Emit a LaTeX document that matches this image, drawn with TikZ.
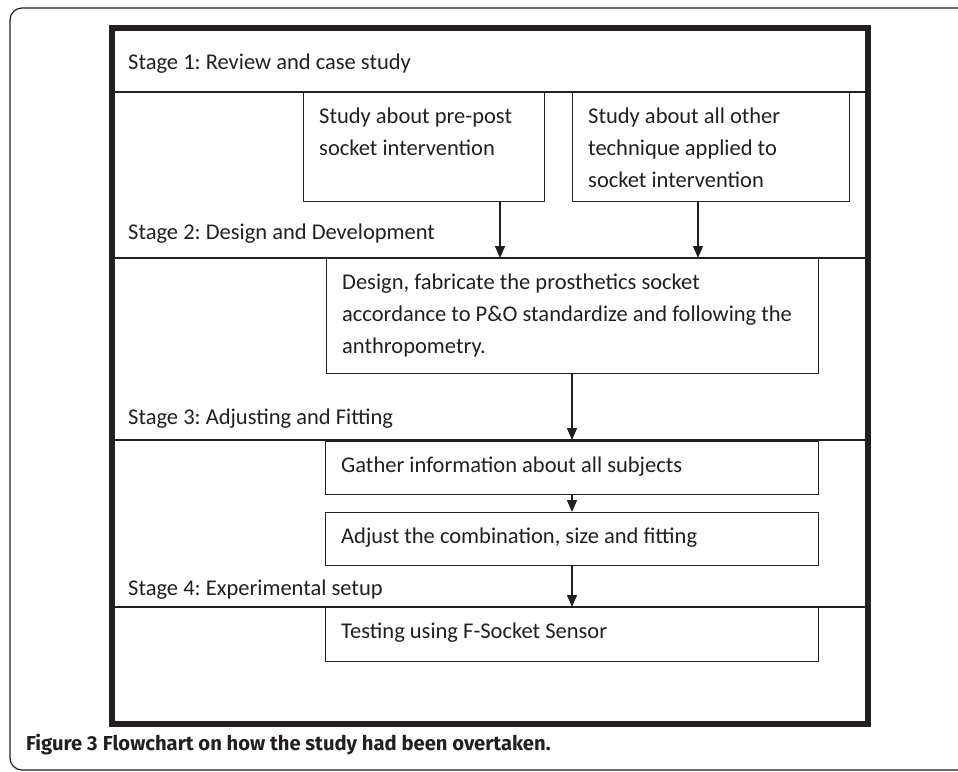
\documentclass[tikz,border=0pt]{standalone}
\usepackage{fontspec}
\setmainfont{Carlito}
\newfontfamily\capfont{Fira Sans}
\usetikzlibrary{arrows.meta,calc}
\definecolor{ink}{HTML}{231F20}
\frenchspacing
\newcommand{\firststrut}{\rule{0pt}{16pt}}
\tikzset{
  box/.style={draw=ink, line width=1.4pt, rectangle, inner sep=0pt, anchor=north west},
  txt/.style={text=ink, anchor=north west, inner sep=0pt, align=left, font=\fontsize{22.5}{32}\selectfont},
  stagetxt/.style={text=ink, anchor=base west, inner sep=0pt, font=\fontsize{22.5}{32}\selectfont},
  sep/.style={draw=ink, line width=1.4pt},
  flow/.style={draw=ink, line width=1.4pt, -{Triangle[width=10pt,length=12pt]}},
}
\begin{document}
\begin{tikzpicture}[x=1pt,y=-1pt]
\useasboundingbox (0,0) rectangle (958,771);
\begin{scope}
\clip (0,0) rectangle (958,771);
% outer frame
\draw[draw=ink, line width=1.2pt, rounded corners=12pt] (970,8) -- (10,8) -- (10,770) -- (970,770);
\end{scope}
% thick box
\draw[draw=ink, line width=6pt] (112,28) rectangle (868,724);
% separators
\coordinate (s1l) at (112,92);  \coordinate (s1r) at (868,92);
\coordinate (s2l) at (112,258); \coordinate (s2r) at (868,258);
\coordinate (s3l) at (112,440); \coordinate (s3r) at (868,440);
\coordinate (s4l) at (112,607); \coordinate (s4r) at (868,607);
\draw[sep] (s1l) -- (s1r);
\draw[sep] (s2l) -- (s2r);
\draw[sep] (s3l) -- (s3r);
\draw[sep] (s4l) -- (s4r);
% stage labels
\node[stagetxt] (st1) at (128,69) {Stage 1: Review and case study};
\node[stagetxt] (st2) at (128,239) {Stage 2: Design and Development};
\node[stagetxt] (st3) at (128,424) {Stage 3: Adjusting and Fitting};
\node[stagetxt] (st4) at (128,595) {Stage 4: Experimental setup};
% boxes
\node[box, minimum width=241pt, minimum height=109pt] (A) at (303,92) {};
\node[box, minimum width=277pt, minimum height=109pt] (B) at (572,92) {};
\node[box, minimum width=492pt, minimum height=115pt] (C) at (326,258) {};
\node[box, minimum width=493pt, minimum height=53pt] (D) at (325,441) {};
\node[box, minimum width=493pt, minimum height=53pt] (E) at (325,512) {};
\node[box, minimum width=493pt, minimum height=54pt] (F) at (325,607) {};
% texts (first baseline 31 below box top)
\node[txt] (tA) at ($(A.north west)+(16,15)$) {\firststrut Study about pre-post\\socket intervention};
\node[txt] (tB) at ($(B.north west)+(16,15)$) {\firststrut Study about all other\\technique applied to\\socket intervention};
\node[txt] (tC) at ($(C.north west)+(16,15)$) {\firststrut Design, fabricate the prosthetics socket\\accordance to P\&O standardize and following the\\anthropometry.};
\node[txt] (tD) at ($(D.north west)+(16,15)$) {\firststrut Gather information about all subjects};
\node[txt] (tE) at ($(E.north west)+(16,15)$) {\firststrut Adjust the combination, size and fitting};
\node[txt] (tF) at ($(F.north west)+(16,15)$) {\firststrut Testing using F-Socket Sensor};
% arrows
\coordinate (a1) at (500,258);
\coordinate (a2) at (698,258);
\coordinate (a3) at (572,440);
\coordinate (a5) at (572,607);
\draw[flow] (A.south -| a1) -- (a1);
\draw[flow] (B.south -| a2) -- (a2);
\draw[flow] (C.south -| a3) -- (a3);
\draw[flow] (D.south -| a3) -- (E.north -| a3);
\draw[flow] (E.south -| a5) -- (a5);
% caption
\node[text=ink, anchor=base west, inner sep=0pt, font=\capfont\fontsize{20.2}{24}\selectfont] (cap) at (26,750) {\textbf{Figure 3} \textbf{Flowchart on how the study had been overtaken.}};
\end{tikzpicture}
\end{document}
